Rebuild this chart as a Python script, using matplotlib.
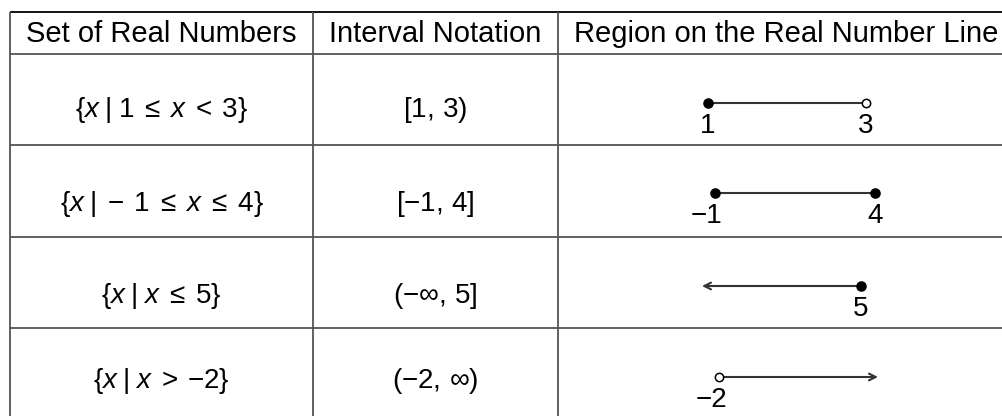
"""Table of real-number sets, interval notation and number-line regions."""

import matplotlib

matplotlib.use("Agg")
import matplotlib.pyplot as plt
import numpy as np

plt.rcParams["font.family"] = ["Liberation Sans", "DejaVu Sans"]
plt.rcParams["mathtext.fontset"] = "custom"
plt.rcParams["mathtext.rm"] = "Liberation Sans"
plt.rcParams["mathtext.it"] = "Liberation Sans:italic"
plt.rcParams["mathtext.sf"] = "Liberation Sans"

# --- table content -------------------------------------------------------
headers = ["Set of Real Numbers", "Interval Notation", "Region on the Real Number Line"]
set_labels = [
    r"$\{x\;|\;1\;\leq\;x\;<\:3\}$",
    r"$\{x\;|\;-\:1\;\leq\;x\;\leq\;4\}$",
    r"$\{x\;|\;x\;\leq\;5\}$",
    r"$\{x\;|\;x\;>\:{-2}\}$",
]
interval_labels = [r"$[1,\,3)$", r"$[-1,\,4]$", r"$(-\infty,\,5]$", r"$(-2,\,\infty)$"]

# interval endpoints and whether each end is closed
lower = [1, -1, -np.inf, -2]
upper = [3, 4, 5, np.inf]
lower_closed = [True, True, False, False]
upper_closed = [False, True, True, False]

# --- layout (pixels) -----------------------------------------------------
W, H = 1002, 416
col_edges = [10, 313, 558, 1014]
row_edges = [12, 54, 145, 237, 328, 420]
text_y = [110, 204, 296, 381]
line_y = [103, 193, 286, 377]
line_x = [(708, 866), (715, 875), (702, 861), (719, 878)]
FS = 20
GRID = "#555555"

fig = plt.figure(figsize=(W / 100, H / 100), dpi=100)
ax = fig.add_axes([0, 0, 1, 1])
ax.set_xlim(0, W)
ax.set_ylim(H, 0)
ax.axis("off")

# grid lines
ax.hlines(row_edges[0], col_edges[0], col_edges[-1], color="black", lw=1.3)
ax.hlines(row_edges[1:], col_edges[0], col_edges[-1], color=GRID, lw=1.3)
ax.vlines(col_edges, row_edges[0], row_edges[-1], color=GRID, lw=1.3)

col_mid = [(a + b) / 2 for a, b in zip(col_edges[:-1], col_edges[1:])]
for x, head in zip(col_mid, headers):
    ax.text(x, (row_edges[0] + row_edges[1]) / 2 + 1, head, fontsize=21, ha="center", va="center")

for i in range(len(set_labels)):
    ax.text(col_mid[0], text_y[i], set_labels[i], fontsize=FS, ha="center", va="center")
    ax.text(col_mid[1], text_y[i], interval_labels[i], fontsize=FS, ha="center", va="center")

# number lines, one small axes per row
for i in range(len(lower)):
    x0, x1 = line_x[i]
    h = 20
    nax = fig.add_axes([x0 / W, 1 - (line_y[i] + h / 2) / H, (x1 - x0) / W, h / H])
    nax.axis("off")
    lo, hi = lower[i], upper[i]
    a = lo if np.isfinite(lo) else hi - 1
    b = hi if np.isfinite(hi) else lo + 1
    nax.set_xlim(a, b)
    nax.set_ylim(-1, 1)
    if np.isfinite(lo) and np.isfinite(hi):
        nax.plot([a, b], [0, 0], color="#333333", lw=1.5, solid_capstyle="butt")
    else:
        start, end = (b, a) if not np.isfinite(lo) else (a, b)
        nax.annotate("", xy=(end, 0), xytext=(start, 0),
                     arrowprops=dict(arrowstyle="->", color="#333333", lw=1.5,
                                     shrinkA=0, shrinkB=0, mutation_scale=12))
    for val, closed in ((lo, lower_closed[i]), (hi, upper_closed[i])):
        if not np.isfinite(val):
            continue
        nax.plot(val, 0, "o", ms=6.5 if closed else 6, mew=1.1, mec="black",
                 mfc="black" if closed else "white", clip_on=False, zorder=3)
        lab = f"{int(val)}".replace("-", "\u2212")
        nax.annotate(lab, xy=(val, 0), xytext=(5.6, -7), textcoords="offset points",
                     fontsize=FS, ha="right", va="top", annotation_clip=False)

fig.savefig("out.png", dpi=100)
